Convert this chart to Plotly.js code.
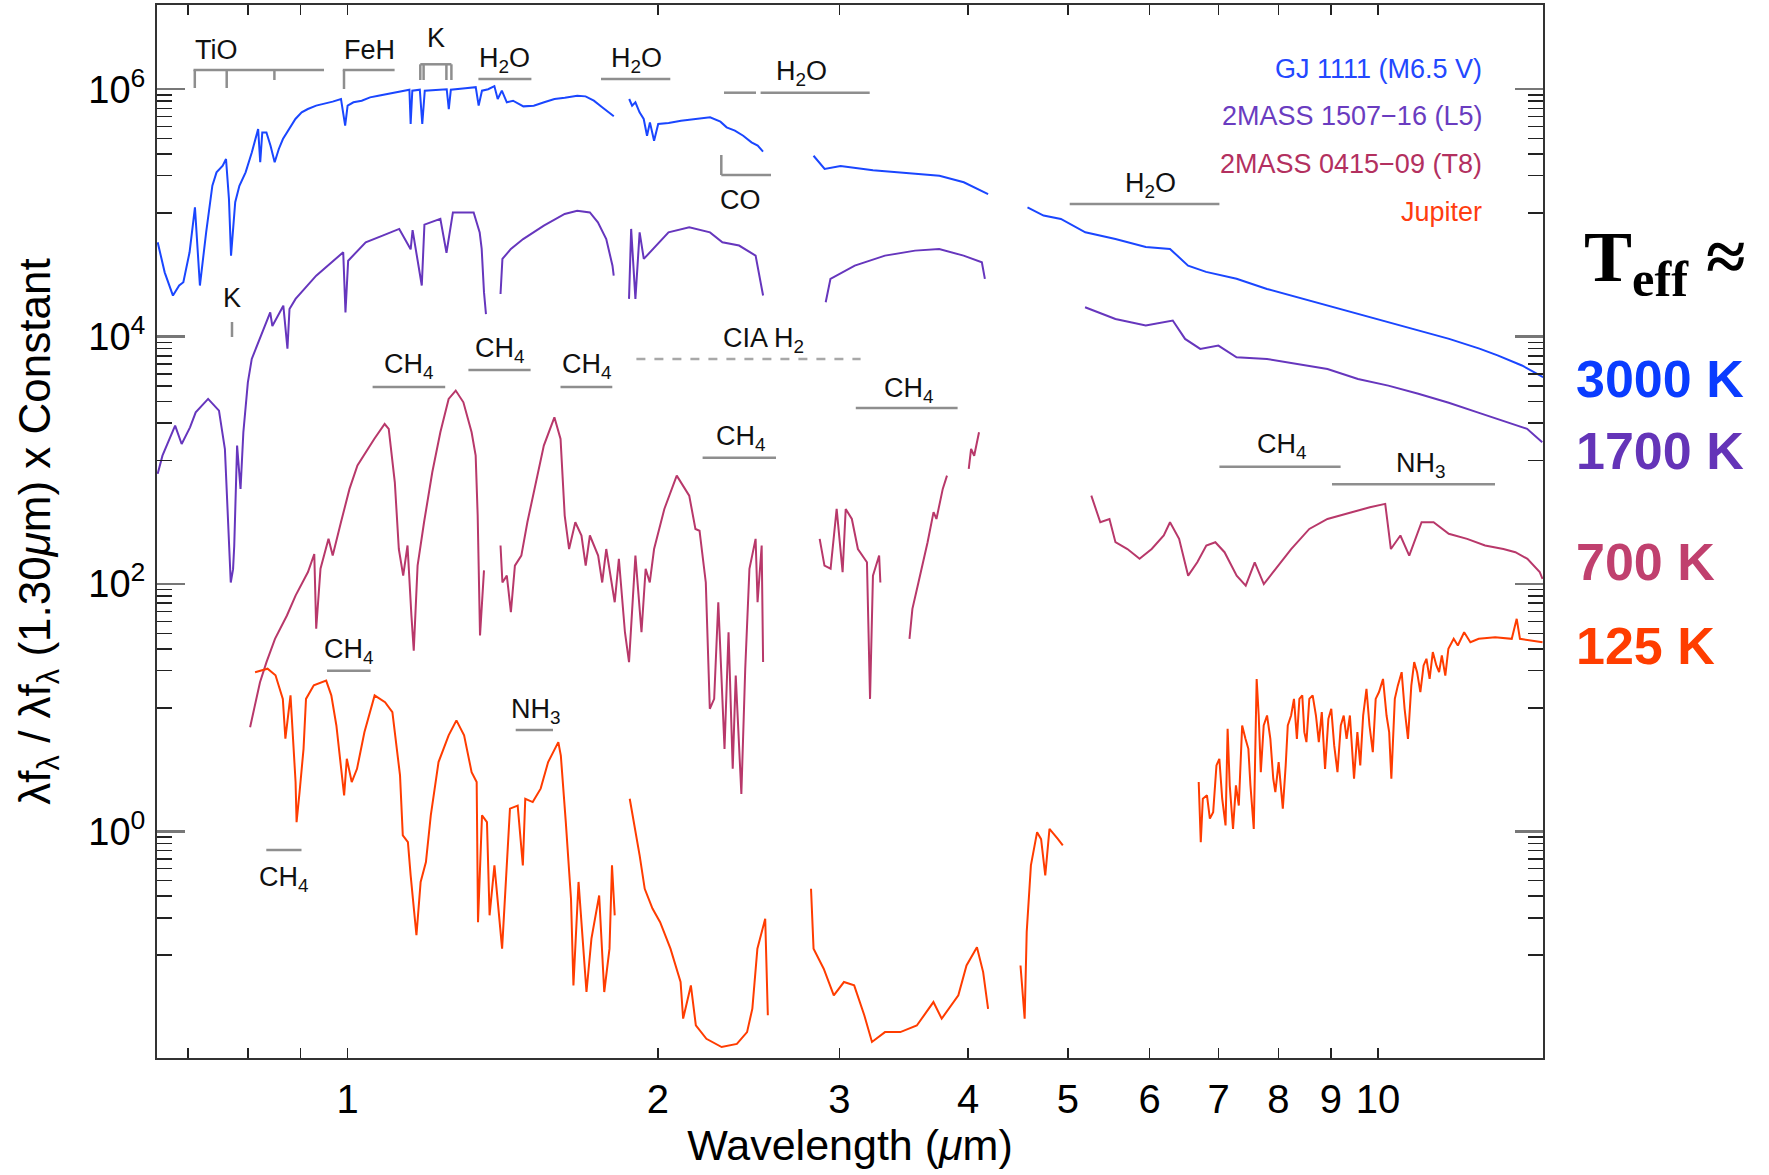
<!DOCTYPE html>
<html>
<head>
<meta charset="utf-8">
<script src="https://cdn.plot.ly/plotly-3.0.1.min.js"></script>
<style>html,body{margin:0;padding:0;background:#fff;}#chart{width:1769px;height:1175px;}</style>
</head>
<body>
<div id="chart"></div>
<script>
// ---------------- DATA ----------------
// wavelength in micron, flux = lambda f_lambda / lambda f_lambda(1.30 um) x constant; null = gap
const gj1111_wl = [0.654,0.6643,0.6767,0.6862,0.6926,0.7023,0.7108,0.7154,0.7187,0.7288,0.7390,0.7459,0.7563,0.7619,0.7669,0.7705,0.7741,0.7777,0.7850,0.7960,0.8072,0.8186,0.8224,0.8262,0.8339,0.8416,0.8494,0.8573,0.8652,0.8774,0.8897,0.9022,0.9148,0.9319,0.9493,0.9670,0.9851,0.9943,0.9998,1.0129,1.0318,1.0511,1.0708,1.0908,1.1112,1.1320,1.1478,1.1510,1.1553,1.1748,1.1813,1.1879,1.2191,1.2476,1.2534,1.2592,1.3007,1.3312,1.3399,1.3499,1.3687,1.3878,1.3982,1.4112,1.4270,1.4469,1.4808,1.5155,1.5510,1.5873,1.6244,1.6702,1.7015,1.7333,1.7658,1.7989,1.8123,null,
 1.8758,1.8880,1.9020,1.9197,1.9376,1.9520,1.9647,1.9830,2.0014,2.0484,2.1062,2.1655,2.2474,2.2999,2.3320,2.3755,2.4200,2.4653,2.4998,2.5297,null,
 2.832,2.903,3.008,3.234,3.555,3.752,3.962,4.183,null,
 4.568,4.735,4.922,5.128,5.198,5.560,5.950,6.281,6.540,6.808,7.288,7.801,8.937,10.24,11.72,12.54,13.06,13.79,14.46];
const gj1111_flux = [5.79e4,3.31e4,2.15e4,2.59e4,2.75e4,4.81e4,1.11e5,4.81e4,2.59e4,6.97e4,1.66e5,2.13e5,2.41e5,2.73e5,1.30e5,4.52e4,6.97e4,1.22e5,1.66e5,2.13e5,3.09e5,4.77e5,2.57e5,4.48e5,4.48e5,3.50e5,2.57e5,3.29e5,3.96e5,4.77e5,5.75e5,6.51e5,6.92e5,7.37e5,7.60e5,7.94e5,8.34e5,5.08e5,7.37e5,7.84e5,8.08e5,8.60e5,8.87e5,9.15e5,9.44e5,9.74e5,9.92e5,5.24e5,9.74e5,9.92e5,5.24e5,9.74e5,9.92e5,1.00e6,6.92e5,9.92e5,1.02e6,1.04e6,7.37e5,9.74e5,1.00e6,1.06e6,8.34e5,9.74e5,7.84e5,8.08e5,7.27e5,7.37e5,7.84e5,8.34e5,8.55e5,8.87e5,8.76e5,8.08e5,7.14e5,6.31e5,6.04e5,null,
 8.34e5,7.37e5,7.84e5,6.51e5,5.75e5,4.21e5,5.40e5,3.84e5,5.24e5,5.34e5,5.57e5,5.75e5,5.93e5,5.47e5,4.92e5,4.63e5,4.21e5,3.72e5,3.50e5,3.13e5,null,
 2.9e5,2.27e5,2.4e5,2.21e5,2.07e5,2.0e5,1.77e5,1.42e5,null,
 1.11e5,9.53e4,8.95e4,7.41e4,6.97e4,6.15e4,5.3e4,5.12e4,3.75e4,3.34e4,2.94e4,2.43e4,1.78e4,1.31e4,9.59e3,8.0e3,7.06e3,5.85e3,4.7e3];

const l5_wl = [0.654,0.661,0.680,0.690,0.703,0.712,0.732,0.750,0.760,0.768,0.770,0.774,0.776,0.781,0.787,0.792,0.800,0.807,0.826,0.841,0.845,0.866,0.874,0.878,0.890,0.932,0.990,0.995,1.001,1.041,1.081,1.122,1.151,1.156,1.180,1.187,1.230,1.247,1.265,1.325,1.343,1.349,1.356,1.362,null,
 1.407,1.413,1.440,1.480,1.550,1.624,1.670,1.718,1.749,1.782,1.807,1.812,null,
 1.875,1.884,1.902,1.920,1.938,1.992,2.048,2.145,2.247,2.310,2.398,2.488,2.530,null,
 2.910,2.941,3.105,3.322,3.553,3.75,3.96,4.125,4.153,null,
 5.195,5.56,5.95,6.32,6.496,6.72,6.998,7.288,7.80,8.93,9.56,10.23,10.94,11.71,12.53,13.40,13.95,14.43];
const l5_flux = [778,1092,1910,1356,1849,2445,3140,2523,1236,191,103,132,203,1316,587,1687,4276,6607,1.09e4,1.57e4,1.22e4,1.78e4,8.0e3,1.67e4,2.02e4,3.11e4,4.81e4,1.57e4,4.11e4,5.79e4,6.56e4,7.43e4,5.08e4,7.26e4,2.59e4,8.05e4,8.95e4,4.77e4,1.01e5,1.01e5,6.97e4,5.12e4,2.29e4,1.52e4,null,
 2.21e4,4.25e4,5.12e4,6.15e4,7.91e4,9.82e4,1.04e5,1.01e5,8.4e4,6.15e4,3.75e4,3.11e4,null,
 2.02e4,7.43e4,2.02e4,6.97e4,4.25e4,5.45e4,6.97e4,7.66e4,6.97e4,5.79e4,5.45e4,4.52e4,2.15e4,null,
 1.9e4,2.93e4,3.75e4,4.52e4,4.96e4,5.12e4,4.52e4,3.99e4,2.93e4,null,
 1.73e4,1.39e4,1.23e4,1.35e4,9.59e3,7.96e3,8.47e3,6.81e3,6.61e3,5.48e3,4.55e3,4.02e3,3.46e3,2.92e3,2.42e3,2.0e3,1.8e3,1.4e3];

const t8_wl = [0.804,0.811,0.822,0.834,0.850,0.873,0.890,0.915,0.928,0.932,0.941,0.958,0.967,0.985,1.004,1.022,1.041,1.061,1.086,1.096,1.111,1.121,1.132,1.143,1.153,1.159,1.169,1.186,1.208,1.230,1.253,1.273,1.295,1.319,1.331,1.337,1.344,1.356,null,
 1.407,1.413,1.427,1.440,1.453,1.474,1.494,1.522,1.550,1.587,1.609,1.624,1.640,1.663,1.686,1.702,1.718,1.750,1.766,1.782,1.816,1.833,1.858,1.875,1.902,1.928,1.946,1.964,1.983,2.029,2.086,2.145,2.175,2.195,2.226,2.246,2.268,2.289,2.321,2.342,2.364,2.380,2.410,2.431,2.454,2.488,2.499,2.522,2.530,null,
 2.871,2.902,2.942,2.982,3.022,3.043,3.085,3.127,3.191,3.213,3.234,3.279,3.288,null,
 3.509,3.532,3.580,3.654,3.703,3.727,3.780,3.816,null,
 4.006,4.027,4.055,4.099,null,
 5.268,5.375,5.486,5.560,5.711,5.868,6.029,6.194,6.281,6.410,6.541,6.676,6.812,6.951,7.095,7.29,7.439,7.590,7.746,7.905,8.234,8.575,8.93,9.428,9.818,10.16,10.29,10.51,10.72,11.02,11.32,11.71,12.20,12.70,13.23,13.59,13.96,14.35,14.44];
const t8_flux = [6.97,9.81,16.1,23.4,36.1,55.7,80.7,125,175,43.5,133,232,170,316,588,908,1164,1490,1968,1796,665,192,117,205,55.7,29.0,141,316,802,1687,3140,3666,2946,1687,1092,358,38.4,129,null,
 205,103,117,59.2,141,170,316,665,1316,2229,1490,358,192,316,247,141,247,170,103,192,71.3,160,40.8,23.4,170,40.8,133,103,192,405,753,519,279,270,103,9.81,11.8,71.3,4.65,40.8,3.21,18.2,2.01,20.6,133,232,71.3,205,23.4,null,
 232,141,133,405,125,405,336,192,150,11.8,117,170,103,null,
 36.1,63.0,103,218,382,336,588,753,null,
 853,1236,1090,1687,null,
 519,316,336,218,192,160,192,247,316,232,117,150,205,218,181,117,97.3,150,100,125,192,279,336,381,418,445,192,247,170,316,316,255,232,205,192,181,160,125,110];

const jupiter_wl = [0.813,0.836,0.851,0.865,0.870,0.880,0.890,0.892,0.898,0.906,0.911,0.927,0.953,0.964,0.975,0.992,0.998,1.009,1.021,1.038,1.062,1.087,1.105,1.124,1.131,1.144,1.151,1.166,1.177,1.191,1.204,1.225,1.253,1.275,1.297,1.319,1.334,1.338,1.350,1.365,1.373,1.388,1.412,1.429,1.437,1.462,1.479,1.487,1.512,1.539,1.565,1.601,1.610,1.628,1.647,1.656,1.675,1.705,1.724,1.754,1.774,1.795,1.805,1.816,null,
 1.878,1.896,1.920,1.942,1.976,2.010,2.057,2.104,2.116,2.153,2.177,2.229,2.306,2.386,2.441,2.470,2.498,2.542,2.557,null,
 2.816,2.832,2.897,2.963,3.031,3.101,3.172,3.227,3.322,3.438,3.567,3.702,3.771,3.914,3.986,4.080,4.137,4.183,null,
 4.497,4.539,4.560,4.603,4.667,4.709,4.753,4.798,4.888,4.943,null,
 6.697,6.728,6.759,6.822,6.866,6.917,6.968,7.013,7.058,7.111,7.144,7.178,7.231,7.278,7.325,7.380,7.435,7.483,7.518,7.574,7.623,7.658,7.694,7.744,7.802,7.860,7.911,7.948,8.007,8.082,8.134,8.172,8.233,8.286,8.340,8.387,8.441,8.480,8.520,8.575,8.639,8.703,8.759,8.817,8.882,8.948,9.006,9.065,9.132,9.200,9.260,9.320,9.389,9.476,9.547,9.609,9.671,9.743,9.809,9.882,9.946,10.02,10.11,10.19,10.25,10.30,10.38,10.45,10.54,10.61,10.69,10.77,10.84,10.91,10.99,11.07,11.14,11.22,11.30,11.39,11.46,11.53,11.62,11.70,11.84,11.95,12.12,12.29,12.52,12.99,13.48,13.63,13.73,14.44];
const jupiter_flux = [19.4,20.7,18.3,11.8,5.62,12.6,2.51,1.19,2.08,4.66,11.8,15.2,16.6,12.6,7.19,1.96,3.87,2.51,3.21,6.35,12.6,11.1,9.21,2.84,0.929,0.821,0.442,0.145,0.391,0.566,1.35,3.64,5.98,7.91,5.98,3.02,2.51,0.185,1.35,1.19,0.210,0.532,0.113,0.726,1.53,1.62,0.532,1.84,1.73,2.22,3.64,5.28,4.11,1.19,0.286,0.057,0.391,0.0504,0.136,0.304,0.0504,0.113,0.532,0.210,null,
 1.84,1.19,0.641,0.344,0.238,0.185,0.113,0.0607,0.0307,0.057,0.0271,0.0211,0.0181,0.0192,0.0239,0.037,0.113,0.197,0.0327,null,
 0.344,0.113,0.0778,0.0474,0.0607,0.057,0.0327,0.0199,0.0239,0.0239,0.027,0.0418,0.0307,0.0474,0.0826,0.116,0.073,0.0369,null,
 0.0826,0.0307,0.154,0.532,0.987,0.867,0.441,1.05,0.872,0.771,null,
 2.51,0.820,1.84,1.96,1.27,1.43,3.42,3.87,1.84,1.12,6.76,2.36,1.05,2.36,1.62,7.19,5.61,4.66,2.36,1.05,17.1,8.66,3.02,7.19,8.66,5.61,2.67,2.08,3.64,1.53,3.42,7.19,8.66,11.8,5.61,11.8,12.6,6.35,5.28,11.8,12.6,8.66,5.28,9.22,3.21,8.14,9.81,4.96,3.02,7.19,8.66,5.61,8.66,2.67,6.35,3.42,8.66,14.2,7.19,4.38,11.8,13.4,17.1,8.66,6.35,2.67,11.8,15.1,19.4,9.81,5.61,15.1,23.4,19.4,13.4,22.0,24.9,17.1,28.2,22.0,19.4,26.5,18.2,30.0,36.1,31.9,40.8,33.9,36.1,37.2,36.1,52.4,36.1,33.9];

const seriesNames = ['GJ 1111 (M6.5 V)', '2MASS 1507\u221216 (L5)', '2MASS 0415\u221209 (T8)', 'Jupiter'];
const teffLabels = ['3000 K', '1700 K', '700 K', '125 K'];
const xTickVals = [1,2,3,4,5,6,7,8,9,10];
const xTickText = ['1','2','3','4','5','6','7','8','9','10'];
const yTickVals = [1, 100, 1e4, 1e6];
const yTickText = ['10<sup>0</sup>','10<sup>2</sup>','10<sup>4</sup>','10<sup>6</sup>'];

// ---------------- STYLE ----------------
const lineColors = ['#1a46ff', '#6636bd', '#b8386a', '#ff3c00'];
const legendColors = ['#2348ff', '#6a3cc0', '#b3305f', '#ff3d10'];
const teffColors = ['#0a3cff', '#6434b8', '#c0406e', '#ff3d00'];
const SANS = 'Liberation Sans, Arial, sans-serif';

// plot box in pixels (for placing labels/brackets in paper coords)
const BX0 = 157, BX1 = 1543, BY0 = 5, BY1 = 1058;
const px = x => (x - BX0) / (BX1 - BX0);
const py = y => (BY1 - y) / (BY1 - BY0);

const traces = [
  {x: gj1111_wl, y: gj1111_flux, name: seriesNames[0], line: {color: lineColors[0], width: 2}},
  {x: l5_wl, y: l5_flux, name: seriesNames[1], line: {color: lineColors[1], width: 2}},
  {x: t8_wl, y: t8_flux, name: seriesNames[2], line: {color: lineColors[2], width: 2}},
  {x: jupiter_wl, y: jupiter_flux, name: seriesNames[3], line: {color: lineColors[3], width: 2}}
].map(t => Object.assign({type: 'scatter', mode: 'lines', connectgaps: false, hoverinfo: 'skip', xaxis: 'x', yaxis: 'y'}, t));

// minor tick positions for the log y axis (k x 10^(n-1) below each labelled decade)
const yMinor = [];
[6, 4, 2, 0].forEach(n => { for (let k = 1; k <= 9; k++) yMinor.push(k * Math.pow(10, n - 1)); });

const shapes = [];
function seg(x0, y0, x1, y1, dash) {
  shapes.push({type: 'line', xref: 'paper', yref: 'paper', x0: px(x0), y0: py(y0), x1: px(x1), y1: py(y1),
    line: {color: dash ? '#a8a8a8' : '#8e8e8e', width: 2.5, dash: dash ? 'dash' : 'solid'}});
}
// TiO
seg(193.5,70,324,70); seg(194.8,70,194.8,88); seg(226.7,70,226.7,88); seg(274.4,70,274.4,80);
// FeH
seg(342.8,70,394.6,70); seg(344,70,344,89);
// K doublet
seg(420.3,64.3,451.4,64.3); seg(420.3,64.3,420.3,80); seg(423.6,64.3,423.6,80); seg(446.4,64.3,446.4,80); seg(451.4,64.3,451.4,80);
// H2O bands
seg(478.4,79,531.4,79); seg(601,79,670.3,79); seg(724,92.7,756,92.7); seg(760.6,92.7,869.7,92.7);
// CO
seg(721.3,155,721.3,175); seg(721.3,175,771,175);
// K (0.77)
seg(232,322,232,337);
// H2O mid-IR
seg(1069.7,204,1219.4,204);
// CIA H2
seg(636.4,359,860.6,359,true);
// CH4 / NH3
seg(372.6,387,445.2,387); seg(468.4,370,530.6,370); seg(560.5,387,612.3,387);
seg(855.8,408,957.6,408); seg(702.6,457.7,776,457.7); seg(327,670.7,370.6,670.7);
seg(515.7,730,553,730); seg(266.3,850,301.5,850); seg(1219.4,466.7,1340.6,466.7); seg(1332,484.3,1495,484.3);

const annotations = [];
function lab(text, x, y, opts) {
  annotations.push(Object.assign({text: text, xref: 'paper', yref: 'paper', x: px(x), y: py(y),
    xanchor: 'center', yanchor: 'middle', showarrow: false,
    font: {family: SANS, size: 27, color: '#111'}}, opts || {}));
}
lab('TiO', 216, 50); lab('FeH', 369, 50); lab('K', 436, 38);
lab('H<sub>2</sub>O', 504.5, 60); lab('H<sub>2</sub>O', 636, 60); lab('H<sub>2</sub>O', 801.8, 73);
lab('CO', 740.8, 200); lab('K', 232, 298); lab('H<sub>2</sub>O', 1150, 185);
lab('CIA H<sub>2</sub>', 763.6, 340);
lab('CH<sub>4</sub>', 409, 366); lab('CH<sub>4</sub>', 500, 350); lab('CH<sub>4</sub>', 587, 366);
lab('CH<sub>4</sub>', 909, 390); lab('CH<sub>4</sub>', 740.8, 438); lab('CH<sub>4</sub>', 349, 651);
lab('NH<sub>3</sub>', 535.6, 711); lab('CH<sub>4</sub>', 283.7, 879); lab('CH<sub>4</sub>', 1281.8, 446);
lab('NH<sub>3</sub>', 1421, 465);

// series names (upper right, inside the frame)
[69, 116, 164, 212].forEach((y, i) => {
  lab(seriesNames[i], 1484, y, {xanchor: 'right', font: {family: SANS, size: 27, color: legendColors[i]}});
});
// Teff column outside the frame
lab('T<sub>eff</sub> \u2248', 1582, 262, {xanchor: 'left', font: {family: 'Liberation Serif, Times New Roman, serif', size: 72, color: '#000', weight: 'bold'}});
[379, 451, 562, 646].forEach((y, i) => {
  lab('<b>' + teffLabels[i] + '</b>', 1574, y, {xanchor: 'left', font: {family: SANS, size: 52, color: teffColors[i]}});
});

const xRange = [Math.log10(0.6530), Math.log10(14.455)];
const yRange = [-1.831, 6.681];

const layout = {
  width: 1769, height: 1175,
  margin: {l: BX0, r: 1769 - BX1, t: BY0, b: 1175 - BY1, pad: 0},
  paper_bgcolor: '#fff', plot_bgcolor: '#fff',
  showlegend: false,
  xaxis: {
    type: 'log', range: xRange, autorange: false,
    tickmode: 'array', tickvals: xTickVals, ticktext: xTickText,
    ticks: 'inside', ticklen: 10, tickwidth: 1.5, tickcolor: '#222',
    minor: {tickmode: 'array', tickvals: [0.7, 0.8, 0.9], ticks: 'inside', ticklen: 10, tickwidth: 1.5, tickcolor: '#222', showgrid: false},
    showline: true, linecolor: '#333', linewidth: 2, mirror: 'ticks',
    showgrid: false, zeroline: false,
    tickfont: {family: SANS, size: 40, color: '#000'}, ticklabelstandoff: 5,
    title: {text: 'Wavelength (<i>\u03bc</i>m)', font: {family: SANS, size: 43, color: '#000'}, standoff: 10}
  },
  xaxis2: {
    type: 'log', range: xRange, autorange: false, overlaying: 'x', anchor: 'y', side: 'bottom',
    tickmode: 'array', tickvals: [1, 10], showticklabels: false,
    ticks: 'inside', ticklen: 20, tickwidth: 2.5, tickcolor: '#777',
    showline: false, mirror: 'ticks', showgrid: false, zeroline: false
  },
  yaxis: {
    type: 'log', range: yRange, autorange: false,
    tickmode: 'array', tickvals: yTickVals, ticktext: yTickText,
    ticks: 'inside', ticklen: 28, tickwidth: 2.5, tickcolor: '#777',
    minor: {tickmode: 'array', tickvals: yMinor, ticks: 'inside', ticklen: 15, tickwidth: 1.5, tickcolor: '#222', showgrid: false},
    showline: true, linecolor: '#333', linewidth: 2, mirror: 'ticks',
    showgrid: false, zeroline: false,
    tickfont: {family: SANS, size: 38, color: '#000'}, ticklabelstandoff: 2,
    title: {text: '\u03bbf<sub>\u03bb</sub> / \u03bbf<sub>\u03bb</sub> (1.30<i>\u03bc</i>m) x Constant', font: {family: SANS, size: 44, color: '#000'}, standoff: 24}
  },
  shapes: shapes,
  annotations: annotations
};

Plotly.newPlot('chart', traces, layout, {displayModeBar: false, staticPlot: true});
</script>
</body>
</html>
